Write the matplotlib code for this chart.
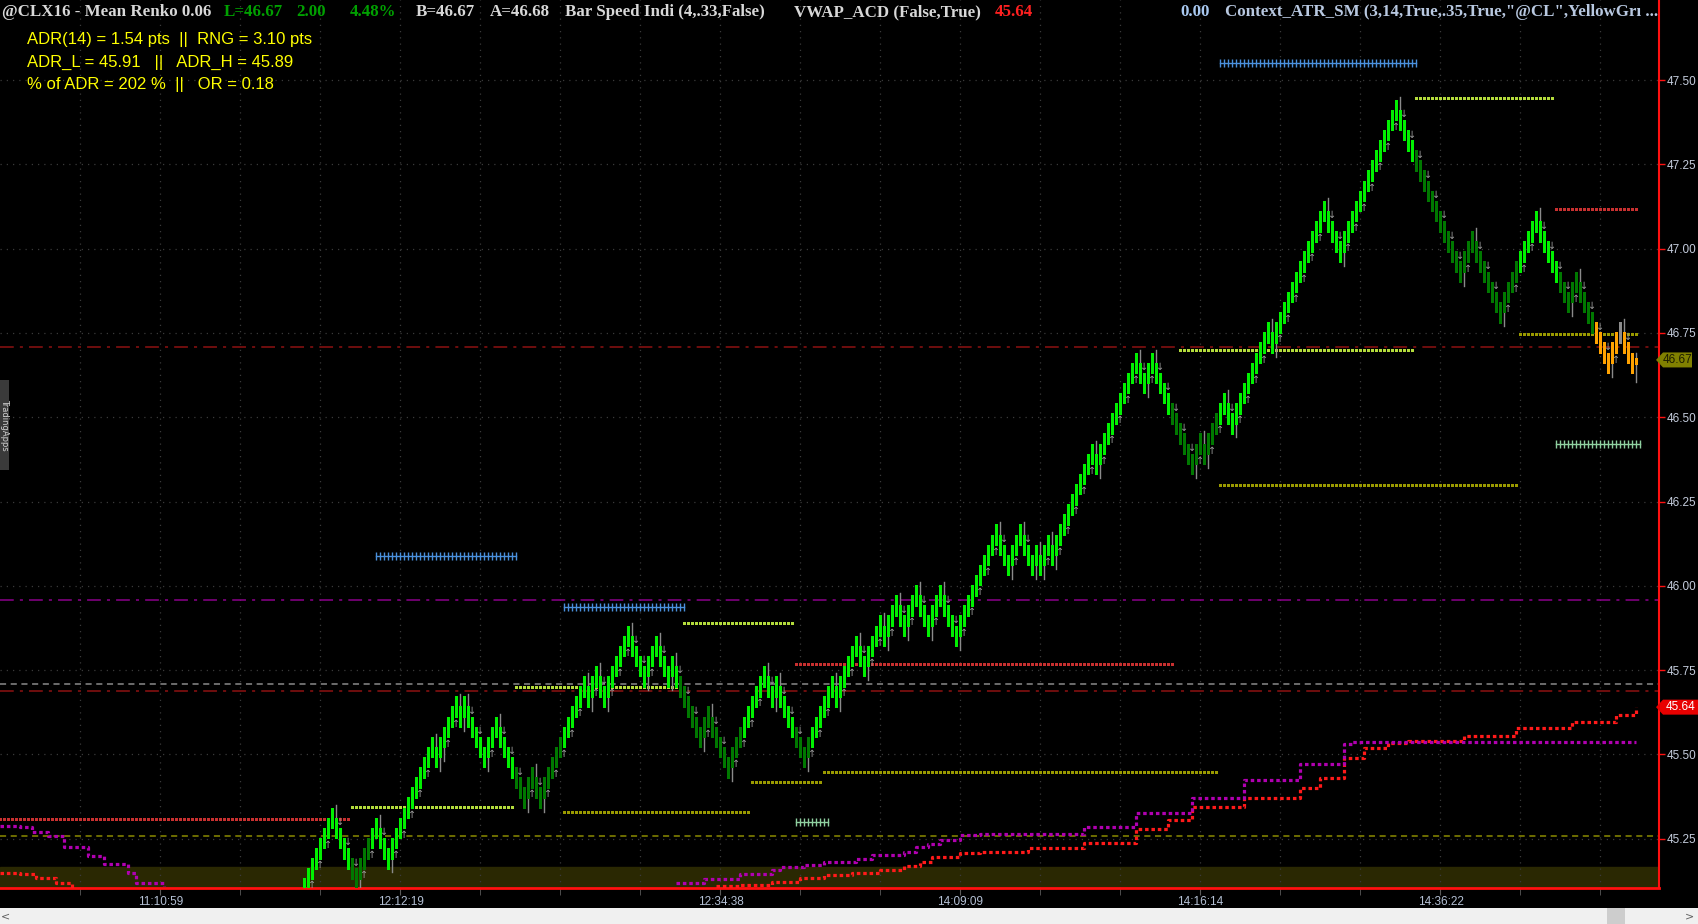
import numpy as np
import matplotlib.pyplot as plt
from matplotlib.patches import Rectangle, Polygon

# ==========================================
# DATA
# ==========================================

# Mean Renko bars: first visible bar index / mid price, then signed run lengths
# (+n = n bars stepping up, -n = n bars stepping down)
first_bar = 76
first_mid = 45.10
step = 0.03
body = 0.064
runs = [7, -6, 5, -3, 11, -1, 1, 4, -1, 1, -5, 3, -7, 2, -2, 11, -1, 2, -2, 6,
        -4, 3, -3, 1, -7, 2, -5, 9, -2, 1, -7, 7, -1, 5, -2, 4, -1, 3, -2, 3,
        -3, 3, -4, 10, -3, 3, -3, 1, -1, 2, -1, 10, -1, 10, -2, 2, -10, 2, -1, 5,
        -2, 9, -1, 13, -4, 14, -16, 3, -7, 9, -8, 2, -8, 3, -3]
# last (still forming) bar
last_bar = 409
last_open, last_close = 46.675, 46.655
last_low, last_high = 46.606, 46.69

# bar speed colouring
dark_ranges = [(88, 92), (129, 140), (170, 185), (199, 202), (293, 304), (354, 379), (390, 398)]
orange_range = (399, 409)
gray_bars = [405]

# flat dotted levels: (first bar, last bar, price)
yg_levels = [(88, 128, 45.345), (129, 170, 45.699), (171, 198, 45.889),
             (295, 353, 46.698), (354, 388, 47.448)]
olive_levels = [(141, 187, 45.328), (188, 205, 45.417), (206, 304, 45.447),
                (305, 379, 46.298), (380, 409, 46.748)]
red_levels = [(0, 87, 45.307), (199, 293, 45.767), (389, 409, 47.117)]
blue_levels = [(94, 129, 46.089), (141, 171, 45.936), (305, 354, 47.550)]
mint_levels = [(199, 207, 45.299), (389, 410, 46.420)]

# VWAP (red) and second average (magenta)
vwap_left_x = [0, 5, 9, 14, 18]
vwap_left_y = [45.147, 45.144, 45.134, 45.118, 45.102]
vwap_x = [179, 185, 193, 200, 206, 213, 220, 226, 230, 233, 240, 245, 257, 271, 284,
          292, 298, 311, 325, 330, 336, 341, 347, 352, 366, 379, 393, 404, 409]
vwap_y = [45.108, 45.113, 45.122, 45.132, 45.142, 45.149, 45.157, 45.169, 45.182,
          45.194, 45.207, 45.211, 45.222, 45.237, 45.279, 45.305, 45.343, 45.369,
          45.401, 45.430, 45.488, 45.520, 45.533, 45.539, 45.555, 45.578, 45.597,
          45.617, 45.640]
mag_left_x = [0, 5, 8, 12, 16, 22, 26, 32, 34, 41]
mag_left_y = [45.286, 45.284, 45.270, 45.257, 45.225, 45.199, 45.176, 45.147, 45.118, 45.109]
mag_x = [169, 176, 185, 193, 195, 201, 206, 214, 218, 225, 226, 229, 232, 235, 240,
         245, 264, 271, 284, 298, 311, 325, 336, 338, 409]
mag_y = [45.118, 45.130, 45.144, 45.157, 45.167, 45.172, 45.180, 45.190, 45.200,
         45.202, 45.210, 45.224, 45.233, 45.246, 45.260, 45.264, 45.263, 45.285,
         45.327, 45.369, 45.424, 45.472, 45.530, 45.536, 45.536]

# dashed reference lines: (price, colour, dash pattern)
ref_lines = [(46.707, "#8e1212", (9, 4, 2, 4)), (45.957, "#8b008b", (9, 4, 2, 4)),
             (45.708, "#8a8a8a", (4, 3)), (45.688, "#8e1212", (9, 4, 2, 4)),
             (45.257, "#8b8b00", (4, 3))]
band_top = 45.166

yticks = [45.25, 45.50, 45.75, 46.00, 46.25, 46.50, 46.75, 47.00, 47.25, 47.50]
xtick_pos = [40, 100, 180, 240, 300, 360]
xtick_lab = ["11:10:59", "12:12:19", "12:34:38", "14:09:09", "14:16:14", "14:36:22"]

last_price = 46.67
vwap_price = 45.64

header = [("@CLX16 - Mean Renko 0.06", 2, "#d8d8d8"), ("L=46.67", 224, "#00a000"),
          ("2.00", 296, "#00a000"), ("4.48%", 350, "#00a000"),
          ("B=46.67", 416, "#d8d8d8"), ("A=46.68", 490, "#d8d8d8"),
          ("Bar Speed Indi (4,.33,False)", 565, "#d8d8d8"),
          ("VWAP_ACD (False,True)", 794, "#d8d8d8"), ("45.64", 995, "#ff2020"),
          ("0.00", 1180, "#a8c8f0"),
          ('Context_ATR_SM (3,14,True,.35,True,"@CL",YellowGr\u0131 ...', 1225, "#b8c8e0")]
adr_lines = ["ADR(14) = 1.54 pts  ||  RNG = 3.10 pts",
             "ADR_L = 45.91   ||   ADR_H = 45.89",
             "% of ADR = 202 %  ||   OR = 0.18"]

# ==========================================
# BUILD BARS
# ==========================================

mids = [first_mid]
dirs = [1]
pos_in_run = [1]
for r in runs:
    d = 1 if r > 0 else -1
    for k in range(abs(r)):
        mids.append(mids[-1] + d * step)
        dirs.append(d)
        pos_in_run.append(k + 1)
mids = np.array(mids)
idx = np.arange(first_bar, first_bar + len(mids))

colors = []
for i in idx:
    c = "#00f000"
    for a, b in dark_ranges:
        if a <= i <= b:
            c = "#007800"
    if orange_range[0] <= i <= orange_range[1]:
        c = "#ffa200"
    if i in gray_bars:
        c = "#8c8c8c"
    colors.append(c)

# ==========================================
# FIGURE
# ==========================================

W, H = 1699, 924
fig = plt.figure(figsize=(W / 100, H / 100), dpi=100, facecolor="black")
ax = fig.add_axes([0, 36 / H, 1659 / W, 888 / H])
ax.set_facecolor("black")

y_bottom = 45.1035
px_per_pt = 337.1
y_top = y_bottom + 888 / px_per_pt
ax.set_ylim(y_bottom, y_top)
# 4 px per bar, bar centres on half pixels so 3 px bodies land on whole pixels
ax.set_xlim(-0.125, (1659 - 0.5) / 4)

# band + grid
ax.axhspan(y_bottom, band_top, color="#2a2802", zorder=0)
for yv in yticks:
    ax.axhline(yv, color="#3a3a3a", lw=0.9, ls=(0, (1, 4)), zorder=1)
for xv in range(20, 415, 20):
    ax.axvline(xv, color="#3a3a3a", lw=0.9, ls=(0, (1, 4)), zorder=1)

for yv, c, dash in ref_lines:
    ax.axhline(yv, color=c, lw=1.1, dashes=dash, zorder=2)

# indicator dots
def dotted(levels, color, line=False):
    for a, b, p in levels:
        xs = np.arange(a, b + 1)
        if line:
            ax.plot([a, b], [p, p], color=color, lw=1, zorder=3)
            ax.plot(xs, [p] * len(xs), ls="none", marker="|", ms=6, mew=1,
                    color=color, zorder=3)
        else:
            ax.plot(xs, [p] * len(xs), ls="none", marker="s", ms=2.16,
                    color=color, mew=0, zorder=3)

dotted(yg_levels, "#b4dc3c")
dotted(olive_levels, "#9a9a00")
dotted(red_levels, "#c83030")
dotted(blue_levels, "#4a90dc", line=True)
dotted(mint_levels, "#8fd0a0", line=True)

for xs, ys, c in [(vwap_left_x, vwap_left_y, "#ff1a1a"), (vwap_x, vwap_y, "#ff1a1a"),
                  (mag_left_x, mag_left_y, "#b000b0"), (mag_x, mag_y, "#b000b0")]:
    ax.plot(xs, ys, color=c, lw=2.3, dashes=(1.1, 0.9), zorder=3,
            drawstyle="steps-post")

# wicks and arrows on bars
for i, m, d, p in zip(idx, mids, dirs, pos_in_run):
    if p == 1 and i != first_bar:
        if d > 0:
            ax.plot([i, i], [m - body / 2 - 0.038, m], color="#8a8a8a", lw=1, zorder=4)
        else:
            ax.plot([i, i], [m, m + body / 2 + 0.038], color="#8a8a8a", lw=1, zorder=4)
    if p % 2 == 0:
        if d > 0:
            ax.text(i, m - body / 2 - 0.002, "\u2191", color="#9a9a9a", fontsize=7,
                    ha="center", va="top", zorder=6)
        else:
            ax.text(i, m + body / 2 + 0.002, "\u2193", color="#9a9a9a", fontsize=7,
                    ha="center", va="bottom", zorder=6)

ax.bar(idx, body, bottom=mids - body / 2, width=0.75, color=colors, linewidth=0,
       zorder=5, antialiased=False)
ax.plot([last_bar, last_bar], [last_low, last_high], color="#8a8a8a", lw=1, zorder=4)
ax.bar([last_bar], [last_open - last_close], bottom=[last_close], width=0.75,
       color="#ffa200", linewidth=0, zorder=5, antialiased=False)

# axes styling
for s in ["top", "left"]:
    ax.spines[s].set_visible(False)
ax.spines["right"].set_color("#ff1010")
ax.spines["right"].set_linewidth(1.5)
ax.spines["bottom"].set_color("#ff1010")
ax.spines["bottom"].set_linewidth(2)

ax.yaxis.tick_right()
ax.set_yticks(yticks)
ax.set_yticklabels([f"{v:.2f}" for v in yticks], family="Liberation Sans")
ax.tick_params(axis="y", colors="#ff1010", labelcolor="#c4ccdc", length=4,
               width=1, labelsize=8.5, pad=1.5)
ax.set_xticks(xtick_pos)
ax.set_xticklabels(xtick_lab, family="Liberation Sans")
ax.set_xticks(range(20, 415, 20), minor=True)
ax.tick_params(axis="x", which="both", colors="#5a5a5a", labelcolor="#b4c0d4",
               length=5, labelsize=8.5, pad=1)

# price flags on the right axis
def fig_xy(xp, yp):
    return (xp / W, 1 - yp / H)

def price_flag(price, text, fc, tc, right):
    yp = (y_top - price) * px_per_pt
    pts = [fig_xy(1656, yp), fig_xy(1663, yp - 7.5), fig_xy(right, yp - 7.5),
           fig_xy(right, yp + 7.5), fig_xy(1663, yp + 7.5)]
    fig.patches.append(Polygon(pts, closed=True, transform=fig.transFigure,
                               fc=fc, ec="none", zorder=10))
    fig.text((1663 + right) / 2 / W, 1 - yp / H, text, color=tc, fontsize=8.5,
             family="Liberation Sans", ha="center", va="center", zorder=11)

price_flag(last_price, f"{last_price:.2f}", "#808000", "#1c1c00", 1692)
price_flag(vwap_price, f"{vwap_price:.2f}", "#e80000", "#ffffff", 1698)

# header texts
for txt, xp, c in header:
    fig.text(xp / W, 1 - 12 / H, txt, color=c, fontsize=12.2, va="center", ha="left",
             family=["Liberation Serif", "DejaVu Serif"], fontweight="bold")
for k, txt in enumerate(adr_lines):
    fig.text(27 / W, 1 - (39.5 + 22.7 * k) / H, txt, color="#ffff00", fontsize=12,
             va="center", ha="left", family=["Liberation Sans Narrow", "Liberation Sans"])

# left side tab
fig.patches.append(Rectangle((0, 1 - 470 / H), 9 / W, 90 / H, transform=fig.transFigure,
                             fc="#3a3a3a", ec="none"))
fig.text(4.5 / W, 1 - 425 / H, "TradingApps", rotation=270, color="#d0d0d0",
         fontsize=6, va="center", ha="center")

# scroll bar
fig.patches.append(Rectangle((0, 0), 1, 16 / H, transform=fig.transFigure,
                             fc="#f0f0f0", ec="none"))
fig.patches.append(Rectangle((1607 / W, 0), 18 / W, 16 / H, transform=fig.transFigure,
                             fc="#cdcdcd", ec="none"))
fig.text(6 / W, 8 / H, "<", color="#606060", fontsize=8, va="center", ha="center")
fig.text(1690 / W, 8 / H, ">", color="#606060", fontsize=8, va="center", ha="center")

plt.savefig("out.png", dpi=100, facecolor="black")
